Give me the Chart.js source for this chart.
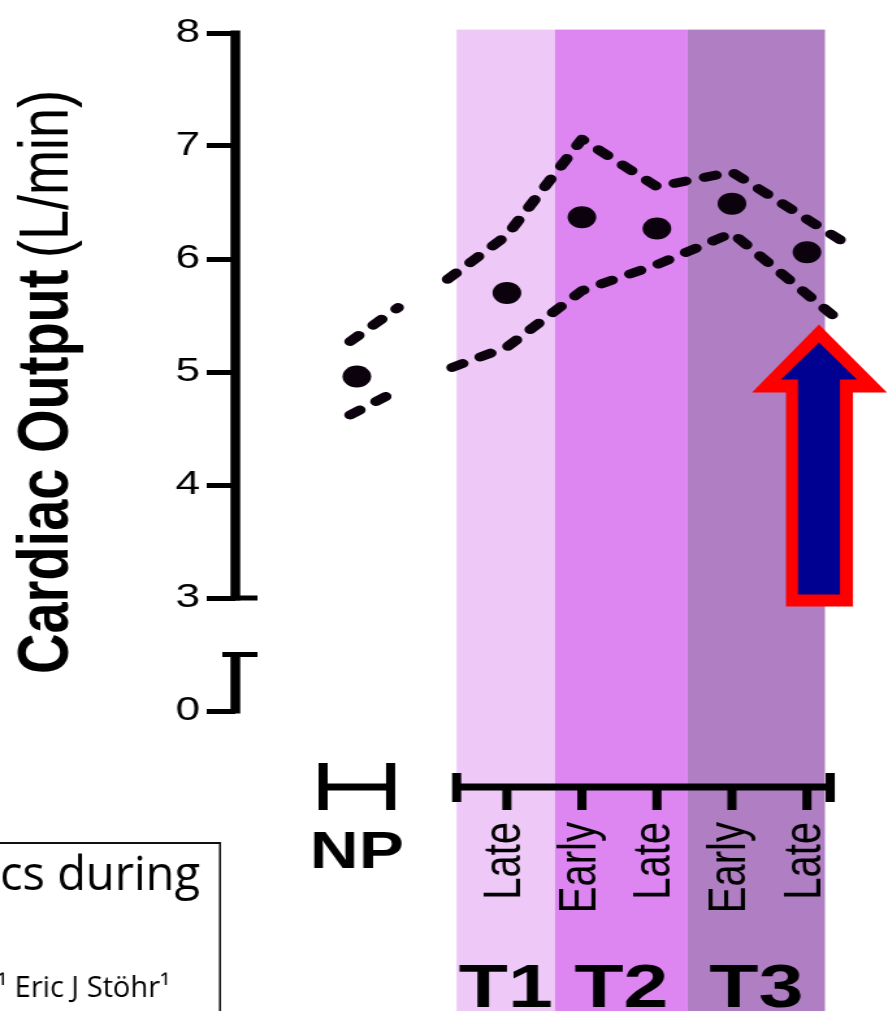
<!DOCTYPE html>
<html>
<head>
<meta charset="utf-8">
<title>Cardiac Output</title>
<script src="https://cdn.jsdelivr.net/npm/chart.js@4.4.1/dist/chart.umd.min.js"></script>
<style>
  html, body { margin: 0; padding: 0; background: #fff; overflow: hidden; }
  /* the original figure is stretched sideways, so the canvas is drawn narrow and widened */
  #wrap { width: 683px; height: 1011px; transform: scaleX(1.3001); transform-origin: 0 0; }
</style>
</head>
<body>
<div id="wrap"><canvas id="coChart" width="683" height="1011"></canvas></div>
<script>
// --- data ---
const xPos = [0, 2, 3, 4, 5, 6];
const xLabels = ['NP', 'Late', 'Early', 'Late', 'Early', 'Late'];
const meanCO = [4.96, 5.70, 6.37, 6.27, 6.49, 6.06];

// dashed confidence lines
const npUpperX = [-0.09, 0.55];
const npUpperY = [5.27, 5.57];
const npLowerX = [-0.09, 0.55];
const npLowerY = [4.62, 4.84];
const upperX = [1.21, 2, 3, 4, 5, 6.44];
const upperY = [5.82, 6.21, 7.06, 6.64, 6.77, 6.17];
const lowerX = [1.27, 2, 3, 4, 5, 6.44];
const lowerY = [5.04, 5.22, 5.72, 5.95, 6.23, 5.45];

// trimester bands
const trimesters = ['T1', 'T2', 'T3'];
const trimesterStart = [1.33, 2.64, 4.41];
const trimesterEnd = [2.64, 4.41, 6.24];
const bandColors = ['#eec9f7', '#dd86f2', '#b07ec2'];

const arrowTip = [6.16, 5.42];

const S = 888 / 683;
const FONT = '"Liberation Sans", Arial, sans-serif';

function pts(xs, ys) {
    return xs.map((v, i) => ({ x: v, y: ys[i] }));
}

const dashed = {
    showLine: true,
    borderColor: '#0b020d',
    borderWidth: 9,
    borderDash: [9, 15],
    borderCapStyle: 'round',
    borderJoinStyle: 'round',
    pointRadius: 0,
    tension: 0
};

const figurePlugin = {
    id: 'figure',
    beforeDatasetsDraw(chart) {
        const { ctx, scales: { x, y } } = chart;
        const top = y.getPixelForValue(8.03);
        ctx.save();
        trimesters.forEach((t, i) => {
            const x0 = x.getPixelForValue(trimesterStart[i]);
            const x1 = x.getPixelForValue(trimesterEnd[i]);
            ctx.fillStyle = bandColors[i];
            ctx.fillRect(x0, top, x1 - x0, chart.height - top);
        });
        ctx.restore();
    },
    afterDatasetsDraw(chart) {
        const { ctx, scales: { x, y } } = chart;
        const ax = x.left;
        ctx.save();
        ctx.strokeStyle = '#000';
        ctx.fillStyle = '#000';

        // broken y axis
        ctx.lineWidth = 7.5;
        ctx.beginPath();
        ctx.moveTo(ax, y.getPixelForValue(8) - 2.5);
        ctx.lineTo(ax, y.getPixelForValue(3) + 2.5);
        ctx.moveTo(ax, y.getPixelForValue(2.5) - 2.5);
        ctx.lineTo(ax, y.getPixelForValue(2) + 2.5);
        ctx.stroke();
        ctx.lineWidth = 5;
        ctx.beginPath();
        ctx.moveTo(ax, y.getPixelForValue(3));
        ctx.lineTo(ax + 17, y.getPixelForValue(3));
        ctx.moveTo(ax - 10, y.getPixelForValue(2.5));
        ctx.lineTo(ax + 17, y.getPixelForValue(2.5));
        ctx.stroke();

        // x axis pieces
        const axisY = 787;
        ctx.lineWidth = 7;
        ctx.beginPath();
        ctx.moveTo(x.getPixelForValue(-0.45), axisY);
        ctx.lineTo(x.getPixelForValue(0.45), axisY);
        [-0.45, 0.45].forEach(v => {
            ctx.moveTo(x.getPixelForValue(v), 763);
            ctx.lineTo(x.getPixelForValue(v), 810);
        });
        ctx.moveTo(x.getPixelForValue(1.33), axisY);
        ctx.lineTo(x.getPixelForValue(6.31), axisY);
        [1.33, 6.31].forEach(v => {
            ctx.moveTo(x.getPixelForValue(v), 773);
            ctx.lineTo(x.getPixelForValue(v), 802);
        });
        xPos.slice(1).forEach(v => {
            ctx.moveTo(x.getPixelForValue(v), axisY);
            ctx.lineTo(x.getPixelForValue(v), 810);
        });
        ctx.stroke();

        // x labels
        ctx.textBaseline = 'alphabetic';
        ctx.font = 'bold 52px ' + FONT;
        ctx.textAlign = 'center';
        ctx.fillText(xLabels[0], x.getPixelForValue(xPos[0]), 868);
        ctx.font = '40px ' + FONT;
        xPos.forEach((v, i) => {
            if (i === 0) return;
            ctx.save();
            ctx.translate(x.getPixelForValue(v) + 10, 822);
            ctx.rotate(-Math.PI / 2);
            ctx.textAlign = 'right';
            ctx.fillText(xLabels[i], 0, 0);
            ctx.restore();
        });
        ctx.font = 'bold 62px ' + FONT;
        ctx.textAlign = 'center';
        trimesters.forEach((t, i) => {
            const mid = x.getPixelForValue((trimesterStart[i] + trimesterEnd[i]) / 2);
            ctx.fillText(t, mid, 1007);
        });

        // y title
        ctx.save();
        ctx.translate(52, 674);
        ctx.rotate(-Math.PI / 2);
        ctx.textAlign = 'left';
        ctx.font = 'bold 56px ' + FONT;
        ctx.fillText('Cardiac Output', 0, 0);
        const w = ctx.measureText('Cardiac Output ').width;
        ctx.font = '54px ' + FONT;
        ctx.fillText('(L/min)', w - 4, 0);
        ctx.restore();

        // overlays drawn in unstretched page pixels
        ctx.save();
        ctx.scale(1 / S, 1);
        const tx = x.getPixelForValue(arrowTip[0]) * S;
        const ty = y.getPixelForValue(arrowTip[1]);
        const poly = (p, color) => {
            ctx.fillStyle = color;
            ctx.beginPath();
            p.forEach(([px, py], k) => k ? ctx.lineTo(tx + px, ty + py) : ctx.moveTo(tx + px, ty + py));
            ctx.closePath();
            ctx.fill();
        };
        poly([[0, 0], [68, 68], [34, 68], [34, 282], [-33, 282], [-33, 68], [-67, 68]], '#ff0000');
        poly([[0, 18], [38, 55], [21, 55], [21, 270], [-21, 270], [-21, 55], [-38, 55]], '#000091');

        ctx.strokeStyle = '#111';
        ctx.lineWidth = 2;
        ctx.beginPath();
        ctx.moveTo(0, 843);
        ctx.lineTo(220, 843);
        ctx.lineTo(220, 1011);
        ctx.stroke();
        ctx.fillStyle = '#000';
        ctx.textAlign = 'left';
        ctx.font = '47px "Open Sans", sans-serif';
        ctx.fillText('cs during', 0, 890);
        ctx.font = '29px "Open Sans", sans-serif';
        ctx.fillText('¹ Eric J Stöhr¹', -3, 997);
        ctx.restore();

        ctx.restore();
    }
};

new Chart(document.getElementById('coChart'), {
    type: 'scatter',
    data: {
        datasets: [
            Object.assign({ label: 'NP upper', data: pts(npUpperX, npUpperY) }, dashed),
            Object.assign({ label: 'NP lower', data: pts(npLowerX, npLowerY) }, dashed),
            Object.assign({ label: 'Upper', data: pts(upperX, upperY) }, dashed),
            Object.assign({ label: 'Lower', data: pts(lowerX, lowerY) }, dashed),
            {
                label: 'Cardiac output',
                data: pts(xPos, meanCO),
                showLine: false,
                pointRadius: 11,
                pointBackgroundColor: '#0b020d',
                pointBorderWidth: 0
            }
        ]
    },
    options: {
        responsive: false,
        animation: false,
        events: [],
        layout: { autoPadding: false, padding: { top: 33, bottom: 300, left: 0, right: 0 } },
        plugins: { legend: { display: false }, tooltip: { enabled: false } },
        scales: {
            x: { type: 'linear', min: -1.62, max: 7.08, display: false },
            y: {
                min: 2,
                max: 8,
                border: { display: false },
                grid: { drawOnChartArea: false, color: '#000', lineWidth: 5, tickLength: 22 },
                ticks: {
                    stepSize: 1,
                    padding: 5,
                    color: '#000',
                    font: { family: FONT, size: 34 },
                    callback: v => (v === 2 ? '0' : v)
                },
                afterFit(scale) { scale.width = 181; }
            }
        }
    },
    plugins: [figurePlugin]
});
</script>
</body>
</html>
